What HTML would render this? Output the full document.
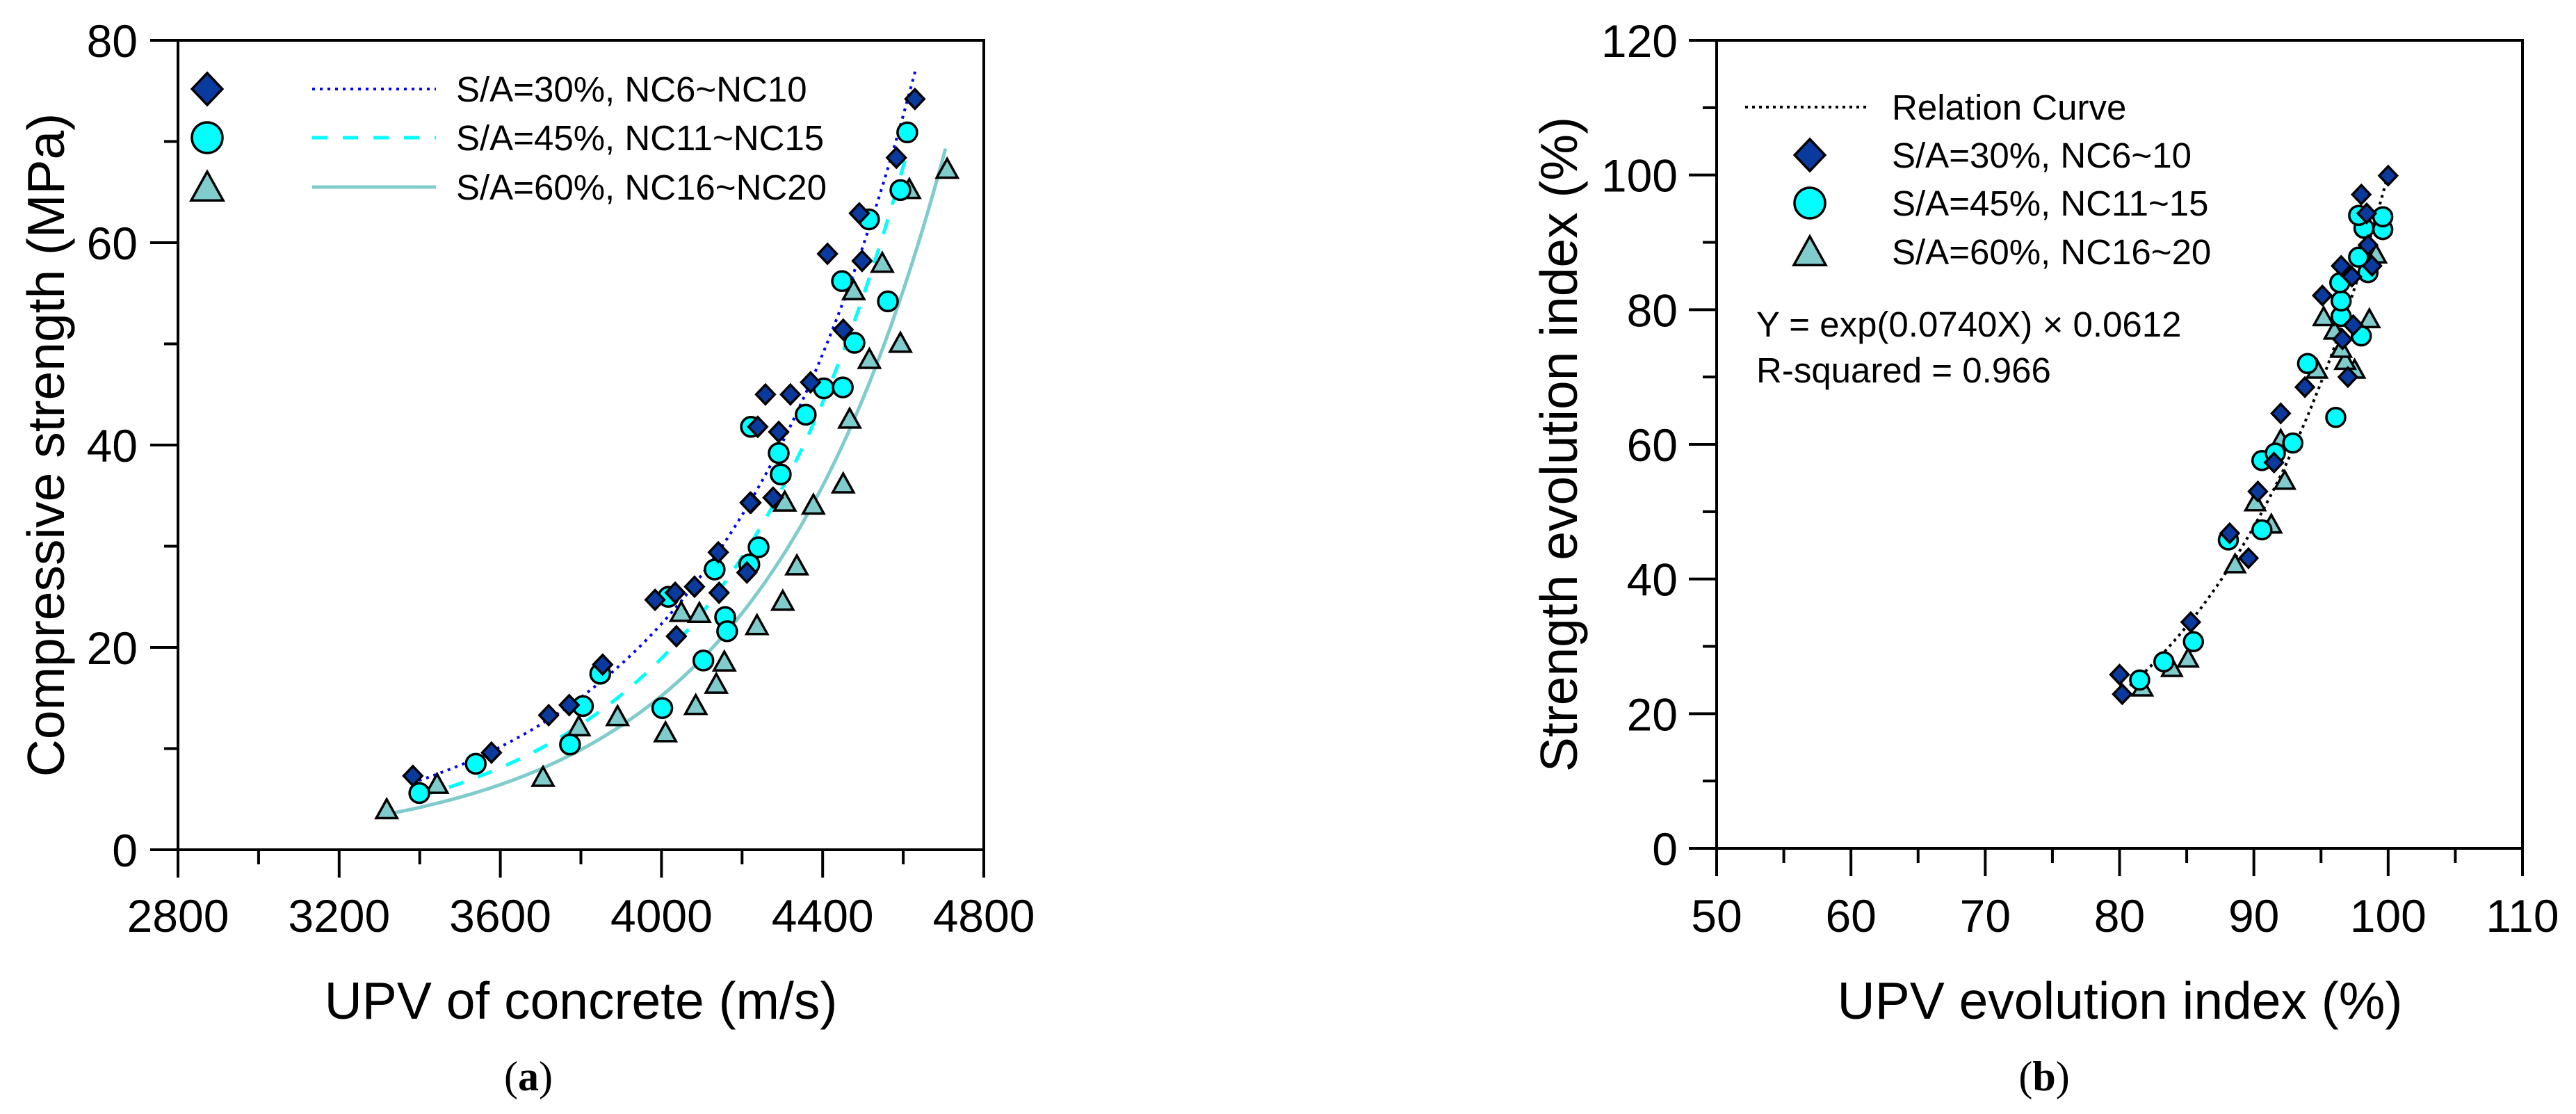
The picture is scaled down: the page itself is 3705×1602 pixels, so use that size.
<!DOCTYPE html>
<html><head><meta charset="utf-8"><style>
html,body{margin:0;padding:0;background:#fff;}
svg{display:block;font-family:"Liberation Sans",Arial,sans-serif;}
</style></head><body>
<svg id="fig" width="3705" height="1602" viewBox="0 0 3705 1602" xmlns="http://www.w3.org/2000/svg">
<g id="chartA"></g>
<g id="chartB"></g>
</svg>
<script>
// ---------- Chart (a) data ----------
const aXTicks = [2800, 3200, 3600, 4000, 4400, 4800];
const aYTicks = [0, 20, 40, 60, 80];
const aSA30x = [3383,3578,3720,3771,3854,3984,4034,4082,4143,4037,4141,4212,4222,4220,4277,4291,4239,4258,4320,4370,4412,4451,4498,4491,4583,4629];
const aSA30y = [7.3,9.6,13.3,14.3,18.3,24.7,25.4,26.0,25.4,21.1,29.4,27.4,34.3,34.3,34.8,41.3,41.8,45.0,45.0,46.2,58.9,51.4,58.2,62.9,68.4,74.2];
const aSA45x = [3399,3539,3773,3805,3848,4002,4017,4104,4132,4158,4163,4218,4241,4222,4291,4296,4358,4403,4450,4448,4479,4515,4562,4593,4610];
const aSA45y = [5.6,8.5,10.4,14.2,17.4,14.0,25.0,18.7,27.7,23.0,21.6,28.2,29.9,41.8,39.2,37.1,43.0,45.6,45.7,56.2,50.1,62.3,54.2,65.2,70.9];
const aSA60x = [3318,3443,3706,3795,3891,4010,4085,4136,4156,4049,4094,4237,4301,4336,4306,4377,4451,4467,4516,4477,4593,4548,4615,4709];
const aSA60y = [3.9,6.4,7.1,12.1,13.1,11.5,14.2,16.3,18.5,23.4,23.3,22.1,24.5,28.0,34.3,34.0,36.1,42.5,48.4,55.2,50.0,57.9,65.2,67.2];
// exponential fit endpoints [x0, y0, x1, y1]
const aFit30 = [3380, 6.6, 4630, 77.0];
const aFit45 = [3400, 5.3, 4610, 69.0];
const aFit60 = [3330, 3.6, 4705, 69.3];

// ---------- Chart (b) data ----------
const bXTicks = [50, 60, 70, 80, 90, 100, 110];
const bYTicks = [0, 20, 40, 60, 80, 100, 120];
const bSA30x = [80.0,80.2,85.3,88.2,89.6,90.3,91.5,92.0,93.8,97.0,96.6,97.4,95.1,96.5,97.3,98.8,98.5,98.4,98.0,100.0];
const bSA30y = [25.8,22.9,33.6,46.8,43.1,53.0,57.3,64.6,68.5,70.0,75.6,77.7,82.1,86.5,84.9,86.5,89.6,94.3,97.1,99.9];
const bSA45x = [81.5,83.3,85.5,88.1,90.6,90.6,91.6,92.9,96.1,94.0,98.0,96.5,96.5,96.4,98.5,97.8,98.2,99.6,97.8,99.6];
const bSA45y = [25.0,27.7,30.7,45.8,47.3,57.6,58.7,60.2,64.0,72.0,76.1,79.0,81.3,84.0,85.5,87.8,92.1,91.9,94.0,93.8];
const bSA60x = [81.7,83.9,85.1,88.6,91.3,90.1,92.3,92.0,94.7,97.5,96.8,96.5,96.0,95.2,98.6,99.1];
const bSA60y = [23.8,26.7,28.1,42.1,48.0,51.3,54.5,60.6,71.0,71.0,72.3,74.1,76.8,78.8,78.5,88.1];
const bFitCoef = [0.0612, 0.0740]; // Y = a*exp(bX)
const bFitRange = [80, 100.2];

const NS = "http://www.w3.org/2000/svg";
function mk(parent, tag, attrs, text){
  const e = document.createElementNS(NS, tag);
  for (const k in attrs) e.setAttribute(k, attrs[k]);
  if (text !== undefined) e.textContent = text;
  parent.appendChild(e);
  return e;
}
const C30 = "#0b3a9e", C45 = "#00ffff", C60 = "#80cccc";

function diamond(g, cx, cy, r){
  return mk(g, "polygon", {points:`${cx},${cy-r} ${cx+r*0.95},${cy} ${cx},${cy+r} ${cx-r*0.95},${cy}`, fill:C30, stroke:"#000", "stroke-width":3.5});
}
function circle(g, cx, cy, r){
  return mk(g, "circle", {cx:cx, cy:cy, r:r, fill:C45, stroke:"#000", "stroke-width":3.5});
}
function tri(g, cx, cy, r){
  return mk(g, "polygon", {points:`${cx},${cy-r*1.05} ${cx+r},${cy+r*0.75} ${cx-r},${cy+r*0.75}`, fill:C60, stroke:"#000", "stroke-width":3.5});
}

function axesFrame(g, L, R, T, B){
  const f = mk(g, "rect", {x:L, y:T, width:R-L, height:B-T, fill:"none", stroke:"#000", "stroke-width":4});
  
  
}

// ================= Chart A =================
(function(){
  const g = document.getElementById("chartA");
  const L=256, R=1415, T=58, B=1222;
  const xMin=2800, xMax=4800, yMin=0, yMax=80;
  const sx = v => L + (v-xMin)/(xMax-xMin)*(R-L);
  const sy = v => B - (v-yMin)/(yMax-yMin)*(B-T);
  axesFrame(g, L, R, T, B);
  // x ticks
  for (let i=0;i<aXTicks.length;i++){
    const v = aXTicks[i];
    const t = mk(g,"line",{x1:sx(v),x2:sx(v),y1:B,y2:B+40,stroke:"#000","stroke-width":4});
    
    
    const lb = mk(g,"text",{x:sx(v),y:B+118,"font-size":66,"text-anchor":"middle"}, String(v));
    
    
    if (i<aXTicks.length-1){
      const m=(v+aXTicks[i+1])/2;
      const mt = mk(g,"line",{x1:sx(m),x2:sx(m),y1:B,y2:B+21,stroke:"#000","stroke-width":4});
      
      
    }
  }
  for (let i=0;i<aYTicks.length;i++){
    const v = aYTicks[i];
    const t = mk(g,"line",{x1:L-40,x2:L,y1:sy(v),y2:sy(v),stroke:"#000","stroke-width":4});
    
    
    const lb = mk(g,"text",{x:L-58,y:sy(v)+24,"font-size":66,"text-anchor":"end"}, String(v));
    
    
    if (i<aYTicks.length-1){
      const m=(v+aYTicks[i+1])/2;
      const mt = mk(g,"line",{x1:L-20,x2:L,y1:sy(m),y2:sy(m),stroke:"#000","stroke-width":4});
      
      
    }
  }
  const xt = mk(g,"text",{x:(L+R)/2,y:1465,"font-size":75,"text-anchor":"middle"},"UPV of concrete (m/s)");
  
  
  const yt = mk(g,"text",{x:0,y:0,"font-size":75,"text-anchor":"middle",transform:`translate(92,${(T+B)/2}) rotate(-90)`},"Compressive strength (MPa)");
  
  
  const cap = mk(g,"text",{x:760,y:1568,"font-size":60,"text-anchor":"middle","font-family":"Liberation Serif, serif"});
  
  
  mk(cap,"tspan",{},"(");
  mk(cap,"tspan",{"font-weight":"bold"},"a");
  mk(cap,"tspan",{},")");

  // fit curves
  function fitPath(p, n){
    const b = Math.log(p[3]/p[1])/(p[2]-p[0]);
    const a = p[1]/Math.exp(b*p[0]);
    let d="";
    for (let i=0;i<=n;i++){
      const x = p[0]+(p[2]-p[0])*i/n;
      d += (i?"L":"M")+sx(x).toFixed(1)+","+sy(a*Math.exp(b*x)).toFixed(1);
    }
    return d;
  }
  const f60 = mk(g,"path",{d:fitPath(aFit60,80),fill:"none",stroke:C60,"stroke-width":5});
  
  
  const f45 = mk(g,"path",{d:fitPath(aFit45,80),fill:"none",stroke:C45,"stroke-width":5,"stroke-dasharray":"22 22"});
  
  
  const f30 = mk(g,"path",{d:fitPath(aFit30,80),fill:"none",stroke:"#0000ff","stroke-width":4,"stroke-dasharray":"4 7"});
  
  

  for (let i=0;i<aSA60x.length;i++){
    const p = tri(g, sx(aSA60x[i]), sy(aSA60y[i]), 15);
    
    
  }
  for (let i=0;i<aSA45x.length;i++){
    const p = circle(g, sx(aSA45x[i]), sy(aSA45y[i]), 14);
    
    
  }
  for (let i=0;i<aSA30x.length;i++){
    const p = diamond(g, sx(aSA30x[i]), sy(aSA30y[i]), 14);
    
    
  }

  // legend
  const lg = mk(g,"g",{});
  
  
  const rows=[128,198,269];
  const labels=["S/A=30%, NC6~NC10","S/A=45%, NC11~NC15","S/A=60%, NC16~NC20"];
  diamond(lg,298,rows[0],23);
  circle(lg,298,rows[1],22);
  tri(lg,298,rows[2]+2,23);
  mk(lg,"line",{x1:449,x2:627,y1:rows[0],y2:rows[0],stroke:"#0000ff","stroke-width":4,"stroke-dasharray":"4 7"});
  mk(lg,"line",{x1:449,x2:627,y1:rows[1],y2:rows[1],stroke:C45,"stroke-width":5,"stroke-dasharray":"22 22"});
  mk(lg,"line",{x1:449,x2:627,y1:rows[2],y2:rows[2],stroke:C60,"stroke-width":5});
  for (let i=0;i<3;i++){
    const t = mk(lg,"text",{x:656,y:rows[i]+18,"font-size":51},labels[i]);
    
    
  }
})();

// ================= Chart B =================
(function(){
  const g = document.getElementById("chartB");
  const L=2469, R=3628, T=58, B=1220;
  const xMin=50, xMax=110, yMin=0, yMax=120;
  const sx = v => L + (v-xMin)/(xMax-xMin)*(R-L);
  const sy = v => B - (v-yMin)/(yMax-yMin)*(B-T);
  axesFrame(g, L, R, T, B);
  for (let i=0;i<bXTicks.length;i++){
    const v=bXTicks[i];
    const t = mk(g,"line",{x1:sx(v),x2:sx(v),y1:B,y2:B+40,stroke:"#000","stroke-width":4});
    
    
    const lb = mk(g,"text",{x:sx(v),y:B+120,"font-size":66,"text-anchor":"middle"},String(v));
    
    
    if (i<bXTicks.length-1){
      const m=(v+bXTicks[i+1])/2;
      const mt = mk(g,"line",{x1:sx(m),x2:sx(m),y1:B,y2:B+21,stroke:"#000","stroke-width":4});
      
      
    }
  }
  for (let i=0;i<bYTicks.length;i++){
    const v=bYTicks[i];
    const t = mk(g,"line",{x1:L-40,x2:L,y1:sy(v),y2:sy(v),stroke:"#000","stroke-width":4});
    
    
    const lb = mk(g,"text",{x:L-56,y:sy(v)+24,"font-size":66,"text-anchor":"end"},String(v));
    
    
    if (i<bYTicks.length-1){
      const m=(v+bYTicks[i+1])/2;
      const mt = mk(g,"line",{x1:L-20,x2:L,y1:sy(m),y2:sy(m),stroke:"#000","stroke-width":4});
      
      
    }
  }
  const xt = mk(g,"text",{x:3049,y:1465,"font-size":75,"text-anchor":"middle"},"UPV evolution index (%)");
  
  
  const yt = mk(g,"text",{x:0,y:0,"font-size":75,"text-anchor":"middle",transform:`translate(2268,${(T+B)/2}) rotate(-90)`},"Strength evolution index (%)");
  
  
  const cap = mk(g,"text",{x:2940,y:1568,"font-size":60,"text-anchor":"middle","font-family":"Liberation Serif, serif"});
  
  
  mk(cap,"tspan",{},"(");
  mk(cap,"tspan",{"font-weight":"bold"},"b");
  mk(cap,"tspan",{},")");

  let d="";
  for (let i=0;i<=60;i++){
    const x = bFitRange[0]+(bFitRange[1]-bFitRange[0])*i/60;
    d += (i?"L":"M")+sx(x).toFixed(1)+","+sy(bFitCoef[0]*Math.exp(bFitCoef[1]*x)).toFixed(1);
  }
  const fc = mk(g,"path",{d:d,fill:"none",stroke:"#000","stroke-width":4,"stroke-dasharray":"4 6"});
  
  

  for (let i=0;i<bSA60x.length;i++){
    const p = tri(g, sx(bSA60x[i]), sy(bSA60y[i]), 14);
    
    
  }
  for (let i=0;i<bSA45x.length;i++){
    const p = circle(g, sx(bSA45x[i]), sy(bSA45y[i]), 13.5);
    
    
  }
  for (let i=0;i<bSA30x.length;i++){
    const p = diamond(g, sx(bSA30x[i]), sy(bSA30y[i]), 13.5);
    
    
  }

  const lg = mk(g,"g",{});
  
  
  mk(lg,"line",{x1:2510,x2:2690,y1:154,y2:154,stroke:"#000","stroke-width":4,"stroke-dasharray":"4 6"});
  const t0 = mk(lg,"text",{x:2721,y:172,"font-size":51},"Relation Curve");
  
  
  const rows=[223,292,362];
  const labels=["S/A=30%, NC6~10","S/A=45%, NC11~15","S/A=60%, NC16~20"];
  diamond(lg,2603,rows[0],23);
  circle(lg,2603,rows[1],22);
  tri(lg,2603,rows[2]+2,23);
  for (let i=0;i<3;i++){
    const t = mk(lg,"text",{x:2721,y:rows[i]+18,"font-size":51},labels[i]);
    
    
  }
  const e1 = mk(g,"text",{x:2526,y:484,"font-size":51},"Y = exp(0.0740X) × 0.0612");
  
  
  const e2 = mk(g,"text",{x:2526,y:550,"font-size":51},"R-squared = 0.966");
  
  
})();
</script>
</body></html>
